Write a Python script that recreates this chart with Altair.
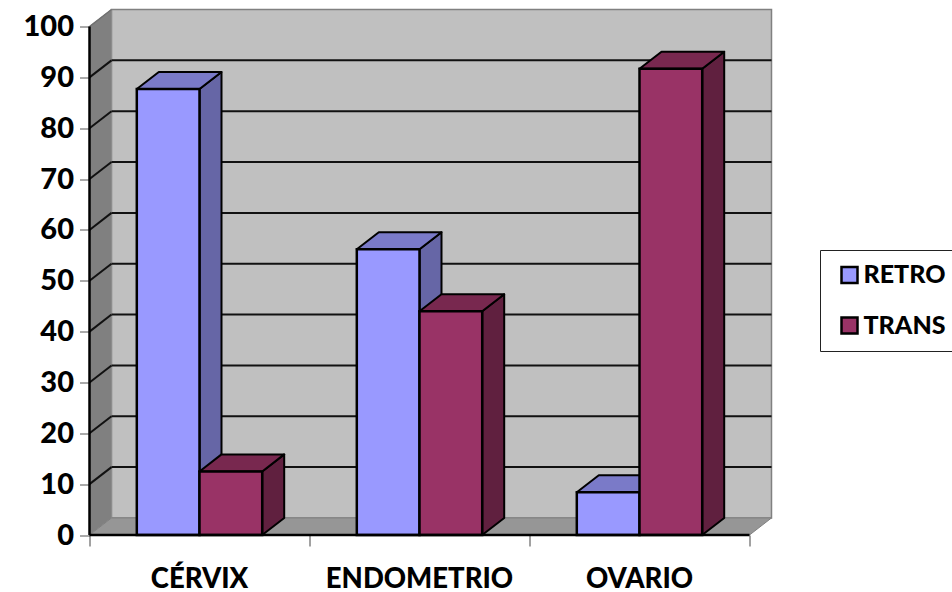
import altair as alt
import pandas as pd

# Chart values
categories = ["CÉRVIX", "ENDOMETRIO", "OVARIO"]
series = ["RETRO", "TRANS"]
retro = [87.7, 56.2, 8.4]
trans = [12.5, 44, 91.7]
y_ticks = [0, 10, 20, 30, 40, 50, 60, 70, 80, 90, 100]
x_ticks = [0, 1, 2, 3]

# Fake-perspective depth, in data units of each axis
DX = 0.1
DY = 3.35
BAR = 0.285
FONT = "Lato"

front_fill = {"RETRO": "#9999FF", "TRANS": "#993366"}
top_fill = {"RETRO": "#7A7AC8", "TRANS": "#78284F"}
side_fill = {"RETRO": "#6666A6", "TRANS": "#60203F"}

xs = alt.Scale(domain=[0, 3 + DX], nice=False, zero=False)
ys = alt.Scale(domain=[0, 100 + DY], nice=False, zero=False)

x_axis = alt.Axis(
    values=x_ticks, labels=False, domain=False, grid=False,
    tickSize=11, tickColor="#444444", tickWidth=1, title=None,
)
y_axis = alt.Axis(
    values=y_ticks, domain=False, grid=False, tickSize=10, title=None,
    tickColor="#555555", tickWidth=1, labelFont=FONT, labelFontSize=29,
    labelFontWeight=900, labelColor="black", labelPadding=6,
)


def X(f="x"):
    return alt.X(f"{f}:Q", scale=xs, axis=x_axis)


def Y(f="y"):
    return alt.Y(f"{f}:Q", scale=ys, axis=y_axis)


# Faces of every bar, derived from the values
fronts, sides, tops = [], [], []
for i, cat in enumerate(categories):
    mid = i + 0.5
    for name, vals, l, r in (
        ("RETRO", retro, mid - BAR, mid),
        ("TRANS", trans, mid, mid + BAR),
    ):
        v = vals[i]
        key = f"{name}{i}"
        fronts.append(dict(serie=name, x=l, x2=r, y=v))
        sides.append(dict(k=key, serie=name, x=r, y=0, y2=v))
        sides.append(dict(k=key, serie=name, x=r + DX, y=DY, y2=v + DY))
        tops.append(dict(k=key, serie=name, y=v, x=l, x2=r))
        tops.append(dict(k=key, serie=name, y=v + DY, x=l + DX, x2=r + DX))

fronts, sides, tops = map(pd.DataFrame, (fronts, sides, tops))

# Walls and floor
wall = alt.Chart(pd.DataFrame([dict(x=DX, x2=3 + DX, y=DY, y2=100 + DY)])).mark_rect(
    fill="#C0C0C0", stroke="#808080", strokeWidth=1.5
).encode(x=X(), x2="x2:Q", y=Y(), y2="y2:Q")

left_wall = alt.Chart(
    pd.DataFrame([dict(x=0, y=0, y2=100), dict(x=DX, y=DY, y2=100 + DY)])
).mark_area(fill="#808080", stroke="#8C8C8C", strokeWidth=1).encode(
    x=X(), y=Y(), y2="y2:Q"
)

floor = alt.Chart(
    pd.DataFrame([dict(y=0, x=0, x2=3), dict(y=DY, x=DX, x2=3 + DX)])
).mark_area(orient="horizontal", fill="#969696", stroke="#808080", strokeWidth=1).encode(
    y=Y(), x=X(), x2="x2:Q"
)

# Gridlines across the back wall and down the side wall
grid_vals = [v for v in y_ticks if 0 < v < 100]
grid_back = alt.Chart(
    pd.DataFrame([dict(y=v + DY, x=DX, x2=3 + DX) for v in grid_vals])
).mark_rule(color="#111111", strokeWidth=2).encode(y=Y(), x=X(), x2="x2:Q")

slant_rows = []
for v in grid_vals + [100]:
    slant_rows.append(dict(k=v, x=0, y=v))
    slant_rows.append(dict(k=v, x=DX, y=v + DY))
grid_side = alt.Chart(pd.DataFrame(slant_rows)).transform_filter("datum.k < 100").mark_line(
    color="#111111", strokeWidth=2
).encode(x=X(), y=Y(), detail="k:N")
top_edge = alt.Chart(pd.DataFrame(slant_rows)).transform_filter("datum.k == 100").mark_line(
    color="#707070", strokeWidth=1.5
).encode(x=X(), y=Y())


def bar_layers(name):
    s = sides[sides.serie == name]
    t = tops[tops.serie == name]
    f = fronts[fronts.serie == name]
    side = alt.Chart(s).mark_area(
        fill=side_fill[name], stroke="black", strokeWidth=2, strokeJoin="round"
    ).encode(x=X(), y=Y(), y2="y2:Q", detail="k:N")
    top = alt.Chart(t).mark_area(
        orient="horizontal", fill=top_fill[name], stroke="black", strokeWidth=2,
        strokeJoin="round",
    ).encode(y=Y(), x=X(), x2="x2:Q", detail="k:N")
    front = alt.Chart(f).mark_rect(stroke="black", strokeWidth=2.5).encode(
        x=X(),
        x2="x2:Q",
        y=Y(),
        y2=alt.Y2(datum=0),
        color=alt.Color(
            "serie:N",
            scale=alt.Scale(domain=series, range=[front_fill[k] for k in series]),
            legend=alt.Legend(
                title=None,
                orient="none",
                legendX=730.5,
                legendY=240.5,
                padding=12.5,
                rowPadding=23.5,
                strokeColor="#222222",
                fillColor="white",
                symbolType="square",
                symbolSize=256,
                symbolStrokeColor="black",
                symbolStrokeWidth=2.5,
                symbolOffset=4.5,
                labelFont=FONT,
                labelFontSize=25,
                labelFontWeight=900,
                labelColor="black",
                labelOffset=1.5,
            ),
        ),
    )
    return [side, top, front]


# Front axis lines
axis_frame = alt.Chart(pd.DataFrame([dict(x=0, y=0, y2=100)])).mark_rule(
    color="black", strokeWidth=2.5
).encode(x=X(), y=Y(), y2="y2:Q")
base_line = alt.Chart(pd.DataFrame([dict(x=0, x2=3, y=0)])).mark_rule(
    color="black", strokeWidth=2.5
).encode(x=X(), x2="x2:Q", y=Y())

cat_labels = alt.Chart(
    pd.DataFrame({"x": [i + 0.5 for i in range(3)], "t": categories})
).mark_text(font=FONT, fontSize=27.5, fontWeight=900, color="black").encode(
    x=X(), y=alt.value(570), text="t:N"
)

chart = alt.layer(
    wall, left_wall, floor, grid_back, grid_side, top_edge,
    *bar_layers("RETRO"), *bar_layers("TRANS"),
    axis_frame, base_line, cat_labels,
).properties(
    width=682,
    height=525.5,
    autosize=alt.AutoSizeParams(type="none"),
    padding={"left": 89.5, "top": 9.5, "right": 180.5, "bottom": 57},
    background="white",
).configure_view(stroke=None)

chart.save("out.html", embed_options={"renderer": "svg", "actions": False})
